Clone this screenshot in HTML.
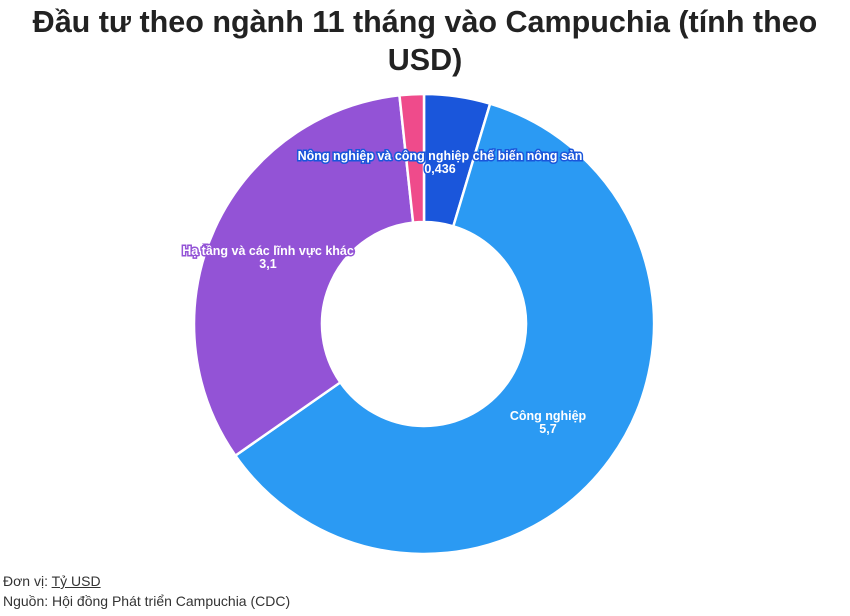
<!DOCTYPE html>
<html><head><meta charset="utf-8"><style>
body{margin:0;width:850px;height:616px;background:#fff;font-family:"Liberation Sans",sans-serif;overflow:hidden;position:relative}
#title{position:absolute;top:3px;left:0;width:850px;text-align:center;font-weight:bold;font-size:30.5px;line-height:38px;color:#222}
.foot{position:absolute;left:3px;font-size:14px;color:#333}
</style></head><body>
<div id="title">Đầu tư theo ngành 11 tháng vào Campuchia (tính theo<br>USD)</div>
<svg id="chart" width="850" height="616" style="position:absolute;left:0;top:0"></svg>
<div class="foot" style="top:573px">Đơn vị: <u>Tỷ USD</u></div>
<div class="foot" style="top:593px">Nguồn: Hội đồng Phát triển Campuchia (CDC)</div>
<script>
const categories=["Nông nghiệp và công nghiệp chế biến nông sản","Công nghiệp","Hạ tầng và các lĩnh vực khác","Khác"];
const values=[0.436,5.7,3.1,0.16];
const labels=["0,436","5,7","3,1",""];
const colors=["#1a56db","#2b9af3","#9353d6","#ef4b8b"];
const svg=document.getElementById('chart');
const NS="http://www.w3.org/2000/svg";
const cx=424,cy=324,R=230,r=102;
const total=values.reduce((a,b)=>a+b,0);
function pt(a,rad){return [cx+rad*Math.sin(a),cy-rad*Math.cos(a)];}
let a0=0;
const labelPos=[[440,156],[548,416],[268,251],null];
values.forEach((v,i)=>{
  const a1=a0+v/total*2*Math.PI;
  const large=(a1-a0)>Math.PI?1:0;
  const p1=pt(a0,R),p2=pt(a1,R),p3=pt(a1,r),p4=pt(a0,r);
  const p=document.createElementNS(NS,'path');
  p.setAttribute('d',`M${p1}A${R},${R} 0 ${large} 1 ${p2}L${p3}A${r},${r} 0 ${large} 0 ${p4}Z`);
  p.setAttribute('fill',colors[i]);p.setAttribute('stroke','#fff');p.setAttribute('stroke-width','2.5');p.setAttribute('stroke-linejoin','round');
  
  
  svg.appendChild(p);
  a0=a1;
});
values.forEach((v,i)=>{
  if(!labelPos[i])return;
  const [x,y]=labelPos[i];
  [categories[i],labels[i]].forEach((s,k)=>{
    const t=document.createElementNS(NS,'text');
    t.setAttribute('x',x);t.setAttribute('y',y+k*13+4);
    t.setAttribute('text-anchor','middle');t.setAttribute('font-size','12.5');t.setAttribute('font-weight','bold');
    t.setAttribute('fill','#fff');t.setAttribute('stroke',colors[i]);t.setAttribute('stroke-width','3');t.setAttribute('paint-order','stroke');
    t.setAttribute('font-family','Liberation Sans, sans-serif');
    
    
    t.textContent=s;svg.appendChild(t);
  });
});
</script>
</body></html>
